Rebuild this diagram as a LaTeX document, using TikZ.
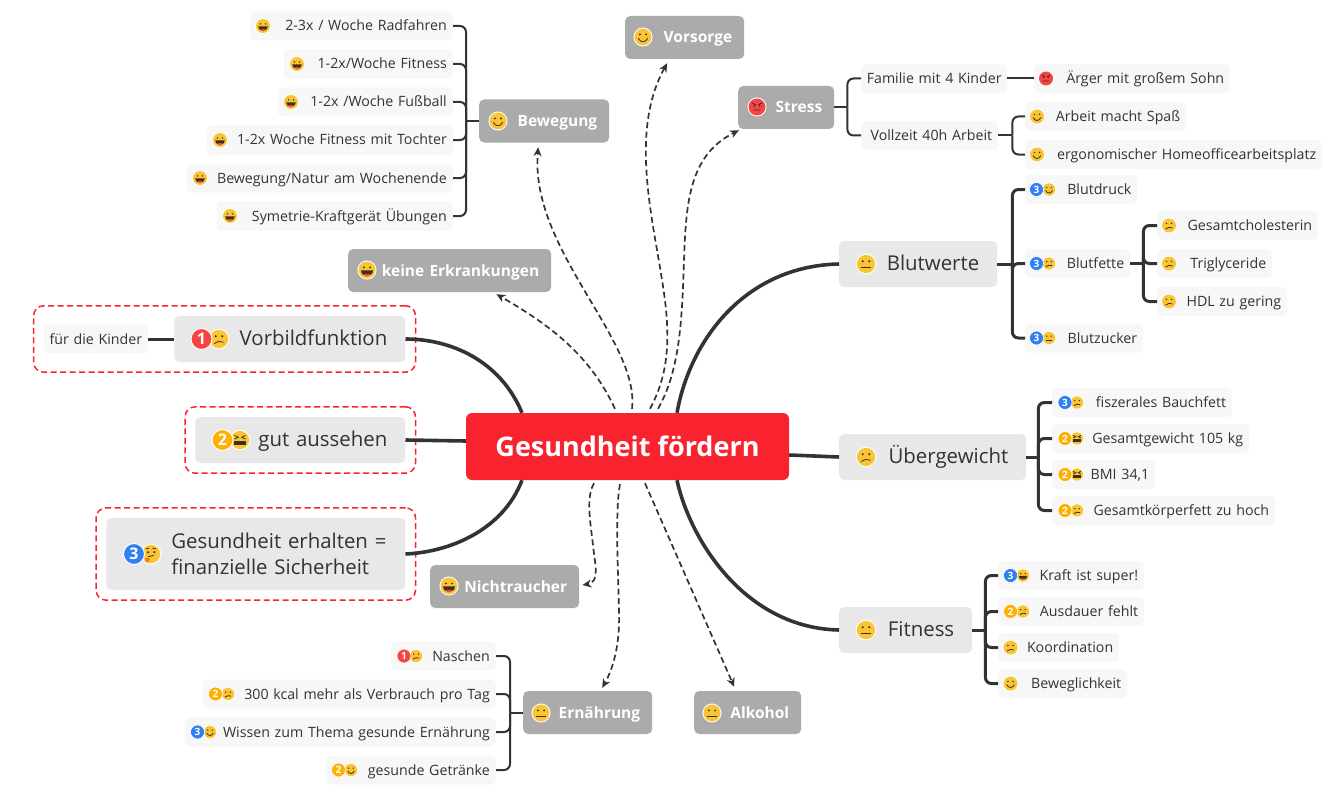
\documentclass[tikz,border=0pt]{standalone}
\usepackage{fontspec}
\setmainfont{Open Sans}
\usetikzlibrary{arrows.meta, fit}

\definecolor{rootred}{HTML}{F9232F}
\definecolor{maingray}{HTML}{E8E8E8}
\definecolor{leafgray}{HTML}{F7F7F7}
\definecolor{darkgray}{HTML}{ABABAB}
\definecolor{inkgray}{HTML}{333333}
\definecolor{facey}{HTML}{F9C536}
\definecolor{faceink}{HTML}{3A3020}
\definecolor{prioone}{HTML}{F64343}
\definecolor{priotwo}{HTML}{FFB000}
\definecolor{priothree}{HTML}{2F80F2}

\newcommand{\facebase}[1]{\fill[white] (0,0) circle (11.2); \fill[#1] (0,0) circle (10);}
\newcommand{\faceeyes}{\fill[faceink] (-3.6,-3) circle (1.2) (3.6,-3) circle (1.2);}

\tikzset{
	smile/.pic={\facebase{facey}\faceeyes \draw[faceink, line width=.8pt] (-5.5,1.5) .. controls (-3,7) and (3,7) .. (5.5,1.5);},
	sad/.pic={\facebase{facey}\faceeyes \draw[faceink, line width=.8pt] (-5,5) .. controls (-2,2.5) and (2,2) .. (5,3.5);},
	neutral/.pic={\facebase{facey}\faceeyes \draw[faceink, line width=.9pt] (-5.5,3.5) -- (5.5,3.5);},
	laugh/.pic={\facebase{facey}\faceeyes
		\fill[faceink] (-7,.5) -- (7,.5) .. controls (7,9) and (-7,9) .. (-7,.5);
		\fill[prioone] (-3.5,4.5) .. controls (-3,8.5) and (3,8.5) .. (3.5,4.5) -- cycle;},
	squint/.pic={\facebase{facey}
		\draw[faceink, line width=.8pt] (-6,-5) -- (-2,-3) -- (-6,-1) (6,-5) -- (2,-3) -- (6,-1);
		\fill[faceink] (-6.5,1.5) rectangle (6.5,5.5);},
	angry/.pic={\facebase{prioone}
		\draw[faceink, line width=.8pt] (-6,-5) -- (-1.5,-2.5) (6,-5) -- (1.5,-2.5) (-4,3.5) -- (4,3.5);
		\fill[faceink] (-3.2,-1.5) circle (1) (3.2,-1.5) circle (1);},
	think/.pic={\facebase{facey}
		\fill[faceink] (-3,-2) circle (1.2) (3.6,-2) circle (1.2);
		\draw[faceink, line width=.8pt] (-5.5,-5.5) -- (-2,-6.5) (1.5,-6.5) -- (5.5,-5.5) (-3,3) -- (3,1.5);
		\fill[orange] (-6,4) -- (-1,5) -- (-3,9.5) -- (-6.5,8) -- cycle;},
	rootnode/.style={rounded corners=6pt, fill=rootred, text=white, minimum width=323pt, minimum height=67pt, font=\fontsize{27}{32}\selectfont\bfseries},
	mainbase/.style={rounded corners=5pt, fill=maingray, text=inkgray, inner xsep=18pt, inner ysep=0pt, text width=#1pt, font=\fontsize{20.4}{26}\selectfont},
	main/.style={mainbase=#1, align=right, minimum height=46pt, text height=16pt, text depth=3pt},
	dark/.style={rounded corners=5pt, fill=darkgray, text=white, inner xsep=12pt, inner ysep=0pt, text width=#1pt, align=right, minimum height=43pt, text height=13pt, text depth=2pt, font=\fontsize{15.5}{20}\selectfont\bfseries},
	leaf/.style={rounded corners=5pt, fill=leafgray, text=inkgray, inner xsep=6pt, inner ysep=0pt, text width=#1pt, align=right, minimum height=29pt, text height=12pt, text depth=2pt, font=\fontsize{14.2}{18}\selectfont},
	badgeleaf/.style={circle, fill=#1, draw=white, line width=.6pt, text=white, inner sep=0pt, minimum size=14pt, font=\fontsize{10}{10}\selectfont\bfseries},
	badgemain/.style={circle, fill=#1, draw=white, line width=1pt, text=white, inner sep=0pt, minimum size=21pt, font=\fontsize{16}{16}\selectfont\bfseries},
	boundary/.style={draw=rootred, rounded corners=10pt, line width=1.5pt, dash pattern=on 6pt off 3.5pt, inner sep=10pt},
	thick link/.style={draw=inkgray, line width=3.6pt},
	branch/.style={draw=inkgray, line width=2pt, rounded corners=6pt},
	branch thick/.style={draw=inkgray, line width=3pt, rounded corners=6pt},
	relation/.style={draw=inkgray, line width=1.7pt, dash pattern=on 6pt off 3.5pt, -{Stealth[length=9pt, width=8pt]}}
}

\begin{document}
\begin{tikzpicture}[x=1pt, y=-1pt]
	\useasboundingbox (0,0) rectangle (1335,797);

	\node[rootnode] (root) at (627.5,446.5) {Gesundheit fördern};

	\node[main=195, anchor=east] (vorbild) at (405.5,339) {Vorbildfunktion};
	\node[main=174, anchor=east] (aussehen) at (405.5,440) {gut aussehen};
	\node[mainbase=263, anchor=east, align=left, minimum height=72pt] (erhalten) at (405.5,554) {\hspace*{47pt}Gesundheit erhalten =\\\hspace*{47pt}finanzielle Sicherheit};
	\node[main=122, anchor=west] (blutwerte) at (839,264) {Blutwerte};
	\node[main=151, anchor=west] (uebergewicht) at (839,457) {Übergewicht};
	\node[main=97, anchor=west] (fitness) at (839,630) {Fitness};

	\node[dark=95, anchor=west] (vorsorge) at (625,37.5) {Vorsorge};
	\node[dark=106, anchor=west] (bewegung) at (479,121) {Bewegung};
	\node[dark=72, anchor=west] (stress) at (738,107.5) {Stress};
	\node[dark=179, anchor=west] (keine) at (348,270.5) {keine Erkrankungen};
	\node[dark=125, anchor=west] (nichtraucher) at (430,586.5) {Nichtraucher};
	\node[dark=105, anchor=west] (ernaehrung) at (523,712.5) {Ernährung};
	\node[dark=83, anchor=west] (alkohol) at (694,712.5) {Alkohol};

	\node[leaf=92, anchor=east] (kinder) at (148,339) {\makebox[92pt][c]{für die Kinder}};

	\node[leaf=191, anchor=east] (radfahren) at (453,26) {2-3x / Woche Radfahren};
	\node[leaf=157, anchor=east] (wochefitness) at (453,64) {1-2x/Woche Fitness};
	\node[leaf=163, anchor=east] (fussball) at (453,102) {1-2x /Woche Fußball};
	\node[leaf=234, anchor=east] (tochter) at (453,140) {1-2x Woche Fitness mit Tochter};
	\node[leaf=254, anchor=east] (natur) at (453,178) {Bewegung/Natur am Wochenende};
	\node[leaf=224, anchor=east] (symetrie) at (453,216) {Symetrie-Kraftgerät Übungen};

	\node[leaf=93, anchor=east] (naschen) at (496,656) {Naschen};
	\node[leaf=281, anchor=east] (kcal) at (496,694) {300 kcal mehr als Verbrauch pro Tag};
	\node[leaf=299, anchor=east] (wissen) at (496,732) {Wissen zum Thema gesunde Ernährung};
	\node[leaf=158, anchor=east] (getraenke) at (496,770) {gesunde Getränke};

	\node[leaf=134, anchor=west] (familie) at (861,78.5) {\makebox[134pt][c]{Familie mit 4 Kinder}};
	\node[leaf=184, anchor=west] (aerger) at (1034,78.5) {Ärger mit großem Sohn};
	\node[leaf=125, anchor=west] (vollzeit) at (861,135.5) {Vollzeit 40h Arbeit};
	\node[leaf=149, anchor=west] (spass) at (1025,116.5) {Arbeit macht Spaß};
	\node[leaf=285, anchor=west] (homeoffice) at (1025,154.5) {ergonomischer Homeofficearbeitsplatz};

	\node[leaf=100, anchor=west] (blutdruck) at (1025,189.5) {Blutdruck};
	\node[leaf=93, anchor=west] (blutfette) at (1025,263.5) {Blutfette};
	\node[leaf=106, anchor=west] (blutzucker) at (1025,338) {Blutzucker};
	\node[leaf=149, anchor=west] (cholesterin) at (1157,225.5) {Gesamtcholesterin};
	\node[leaf=103, anchor=west] (triglyceride) at (1157,263.5) {Triglyceride};
	\node[leaf=118, anchor=west] (hdl) at (1157,301.5) {HDL zu gering};

	\node[leaf=168, anchor=west] (bauchfett) at (1052,402.5) {fiszerales Bauchfett};
	\node[leaf=185, anchor=west] (gewicht) at (1052,438.5) {Gesamtgewicht 105 kg};
	\node[leaf=91, anchor=west] (bmi) at (1052,474.5) {BMI 34,1};
	\node[leaf=211, anchor=west] (koerperfett) at (1052,510.5) {Gesamtkörperfett zu hoch};

	\node[leaf=134, anchor=west] (kraft) at (998,575.5) {Kraft ist super!};
	\node[leaf=134, anchor=west] (ausdauer) at (998,611.5) {Ausdauer fehlt};
	\node[leaf=109, anchor=west] (koordination) at (998,647.5) {Koordination};
	\node[leaf=117, anchor=west] (beweglichkeit) at (998,683.5) {Beweglichkeit};

	\node[boundary, fit=(kinder)(vorbild)] (rahmeneins) {};
	\node[boundary, fit=(aussehen)] (rahmenzwei) {};
	\node[boundary, fit=(erhalten)] (rahmendrei) {};

	\path[thick link] (vorbild.east) .. controls (450,339) and (500,360) .. ([xshift=-105.5pt]root.north);
	\path[thick link] (aussehen.east) -- ([yshift=5.5pt]root.west);
	\path[thick link] (erhalten.east) .. controls (450,552) and (503,530) .. ([xshift=-105.5pt]root.south);
	\path[thick link] ([xshift=49.5pt]root.north) .. controls (690,340) and (745,266) .. (blutwerte.west);
	\path[thick link] ([yshift=-8.5pt]root.east) -- (uebergewicht.west);
	\path[thick link] ([xshift=49.5pt]root.south) .. controls (690,540) and (745,628) .. (fitness.west);
	\path[branch thick] (kinder.east) -- (vorbild.west);

	\coordinate (bewegungfork) at ([xshift=-13pt]bewegung.west);
	\coordinate (ernaehrungfork) at ([xshift=-13pt]ernaehrung.west);
	\coordinate (stressfork) at ([xshift=13pt]stress.east);
	\coordinate (vollzeitfork) at ([xshift=14pt]vollzeit.east);
	\coordinate (blutwertefork) at ([xshift=15pt]blutwerte.east);
	\coordinate (blutfettefork) at ([xshift=13pt]blutfette.east);
	\coordinate (uebergewichtfork) at ([xshift=12pt]uebergewicht.east);
	\coordinate (fitnessfork) at ([xshift=13pt]fitness.east);

	\path[branch] (bewegung.west) -- (bewegungfork);
	\foreach \c in {radfahren, wochefitness, fussball, tochter, natur, symetrie}
		\path[branch] (bewegungfork) |- (\c.east);
	\path[branch] (ernaehrung.west) -- (ernaehrungfork);
	\foreach \c in {naschen, kcal, wissen, getraenke}
		\path[branch] (ernaehrungfork) |- (\c.east);
	\path[branch] (stress.east) -- (stressfork);
	\foreach \c in {familie, vollzeit}
		\path[branch] (stressfork) |- (\c.west);
	\path[branch] (familie.east) -- (aerger.west);
	\path[branch] (vollzeit.east) -- (vollzeitfork);
	\foreach \c in {spass, homeoffice}
		\path[branch] (vollzeitfork) |- (\c.west);
	\path[branch thick] (blutwerte.east) -- (blutwertefork);
	\foreach \c in {blutdruck, blutfette, blutzucker}
		\path[branch thick] (blutwertefork) |- (\c.west);
	\path[branch thick] (blutfette.east) -- (blutfettefork);
	\foreach \c in {cholesterin, triglyceride, hdl}
		\path[branch thick] (blutfettefork) |- (\c.west);
	\path[branch thick] (uebergewicht.east) -- (uebergewichtfork);
	\foreach \c in {bauchfett, gewicht, bmi, koerperfett}
		\path[branch thick] (uebergewichtfork) |- (\c.west);
	\path[branch thick] (fitness.east) -- (fitnessfork);
	\foreach \c in {kraft, ausdauer, koordination, beweglichkeit}
		\path[branch thick] (fitnessfork) |- (\c.west);

	\path[relation] ([xshift=-12.5pt,yshift=4pt]root.north) .. controls (590,355) and (550,325) .. ([xshift=-55pt,yshift=-2pt]keine.south east);
	\path[relation] ([xshift=4.5pt,yshift=4pt]root.north) .. controls (640,340) and (530,250) .. ([xshift=-6pt,yshift=-4.5pt]bewegung.south);
	\path[relation] ([xshift=22.5pt,yshift=4pt]root.north) .. controls (668,375) and (672,340) .. (662,280) .. controls (652,215) and (630,130) .. ([xshift=-17.5pt,yshift=-4pt]vorsorge.south);
	\path[relation] ([xshift=30.5pt,yshift=4pt]root.north) .. controls (680,370) and (682,320) .. (684,260) .. controls (686,200) and (690,155) .. ([xshift=1pt,yshift=-1pt]stress.south west);
	\path[relation] ([xshift=-33.5pt,yshift=-3pt]root.south) .. controls (586,497) and (590,520) .. (593,545) .. controls (595,565) and (600,582) .. ([xshift=3pt,yshift=1.5pt]nichtraucher.east);
	\path[relation] ([xshift=-7.5pt,yshift=-4pt]root.south) .. controls (615,510) and (618,570) .. (619,610) .. controls (620,640) and (615,665) .. ([xshift=14.5pt,yshift=3pt]ernaehrung.north);
	\path[relation] ([xshift=17.5pt,yshift=-3pt]root.south) -- ([xshift=-13.5pt,yshift=4pt]alkohol.north);

	\pic[scale=.92] at (219,339) {sad};
	\node[badgemain=prioone] (ba) at (201.5,339) {1};
	\pic[scale=.92] at (240,440) {squint};
	\node[badgemain=priotwo] (bb) at (222.5,440) {2};
	\pic[scale=.92] at (151,554) {think};
	\node[badgemain=priothree] (bc) at (134,554) {3};
	\pic[scale=.92] at (866,264) {neutral};
	\pic[scale=.92] at (866,457) {sad};
	\pic[scale=.92] at (866,630) {neutral};

	\pic[scale=.85] at (643,37) {smile};
	\pic[scale=.85] at (498,121) {smile};
	\pic[scale=.85] at (757,107) {angry};
	\pic[scale=.85] at (367,270) {laugh};
	\pic[scale=.85] at (449,586) {laugh};
	\pic[scale=.85] at (541,713) {neutral};
	\pic[scale=.85] at (712,713) {neutral};

	\foreach \y/\x in {26/263, 64/297, 102/291, 140/220, 178/200, 216/230}
		\pic[scale=.7] at (\x,\y) {laugh};
	\pic[scale=.7] at (1046,78.5) {angry};
	\pic[scale=.7] at (1037,116.5) {smile};
	\pic[scale=.7] at (1037,154.5) {smile};
	\pic[scale=.7] at (1169,225.5) {sad};
	\pic[scale=.7] at (1169,263.5) {sad};
	\pic[scale=.7] at (1169,301.5) {sad};
	\pic[scale=.7] at (1010.5,647.5) {sad};
	\pic[scale=.7] at (1010.5,683.5) {smile};

	\pic[scale=.62] at (416,656) {sad};
	\node[badgeleaf=prioone] (be) at (404,656) {1};
	\pic[scale=.62] at (228,694) {sad};
	\node[badgeleaf=priotwo] (bf) at (215.5,694) {2};
	\pic[scale=.62] at (210,732) {smile};
	\node[badgeleaf=priothree] (bg) at (197.5,732) {3};
	\pic[scale=.62] at (351,770) {smile};
	\node[badgeleaf=priotwo] (bh) at (338.5,770) {2};

	\pic[scale=.62] at (1049,189.5) {smile};
	\node[badgeleaf=priothree] (bi) at (1036.5,189.5) {3};
	\pic[scale=.62] at (1049,263.5) {sad};
	\node[badgeleaf=priothree] (bj) at (1036.5,263.5) {3};
	\pic[scale=.62] at (1049,338) {neutral};
	\node[badgeleaf=priothree] (bk) at (1036.5,338) {3};

	\pic[scale=.62] at (1077,402.5) {sad};
	\node[badgeleaf=priothree] (bl) at (1065,402.5) {3};
	\pic[scale=.62] at (1077,438.5) {squint};
	\node[badgeleaf=priotwo] (bm) at (1065,438.5) {2};
	\pic[scale=.62] at (1077,474.5) {squint};
	\node[badgeleaf=priotwo] (bn) at (1065,474.5) {2};
	\pic[scale=.62] at (1077,510.5) {sad};
	\node[badgeleaf=priotwo] (bo) at (1065,510.5) {2};

	\pic[scale=.62] at (1023,575.5) {laugh};
	\node[badgeleaf=priothree] (bp) at (1010.5,575.5) {3};
	\pic[scale=.62] at (1023,611.5) {sad};
	\node[badgeleaf=priotwo] (bq) at (1010.5,611.5) {2};
\end{tikzpicture}
\end{document}
